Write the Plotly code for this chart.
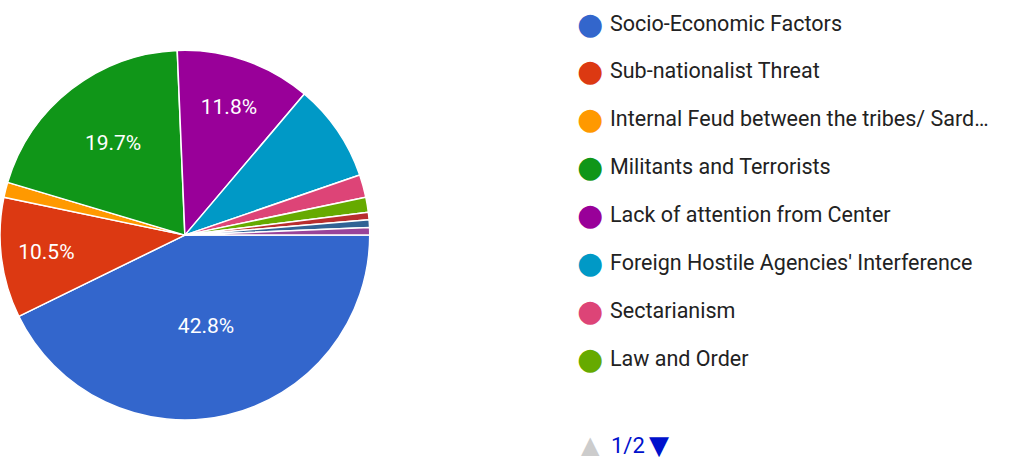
import plotly.graph_objects as go

# Data (counts out of 152 responses)
categories = [
    "Socio-Economic Factors",
    "Sub-nationalist Threat",
    "Internal Feud between the tribes/ Sard…",
    "Militants and Terrorists",
    "Lack of attention from Center",
    "Foreign Hostile Agencies' Interference",
    "Sectarianism",
    "Law and Order",
    "Other 1",
    "Other 2",
    "Other 3",
]
counts = [65, 16, 2, 30, 18, 13, 3, 2, 1, 1, 1]
colors = ["#3366cc", "#dc3912", "#ff9900", "#109618", "#990099", "#0099c6",
          "#dd4477", "#66aa00", "#b82e2e", "#316395", "#994499"]
legend_shown = 8
pager_text = "1/2"

total = sum(counts)
texts = [f"{100*c/total:.1f}%" if 100 * c / total >= 10 else "" for c in counts]

FONT = "Roboto, Arial, sans-serif"

fig = go.Figure(go.Pie(
    labels=categories,
    values=counts,
    text=texts,
    textinfo="text",
    textposition="inside",
    insidetextorientation="horizontal",
    textfont=dict(color="white", size=21, family=FONT),
    marker=dict(colors=colors, line=dict(color="white", width=1.5)),
    sort=False,
    direction="clockwise",
    rotation=90,
    domain=dict(x=[0.0, 0.365], y=[0.0, 0.98]),
    showlegend=False,
    hoverinfo="label+percent",
))

row_top = 23
row_gap = 47.9
H = 461
W = 1013
for i in range(legend_shown):
    ypix = row_top + i * row_gap
    fig.add_annotation(x=590 / W, y=1 - ypix / H, xref="paper", yref="paper",
                       text="●", showarrow=False, xanchor="center", yanchor="middle",
                       font=dict(size=30, color=colors[i], family="DejaVu Sans"))
    fig.add_annotation(x=608 / W, y=1 - ypix / H, xref="paper", yref="paper",
                       text=categories[i], showarrow=False, xanchor="left", yanchor="middle",
                       font=dict(size=21.5, color="#222222", family=FONT))

fig.add_annotation(x=590 / W, y=1 - 445 / H, xref="paper", yref="paper", text="▲",
                   showarrow=False, xanchor="center", yanchor="middle",
                   font=dict(size=24, color="#cccccc", family="DejaVu Sans"))
fig.add_annotation(x=609 / W, y=1 - 445 / H, xref="paper", yref="paper", text=pager_text,
                   showarrow=False, xanchor="left", yanchor="middle",
                   font=dict(size=22, color="#0011cc", family=FONT))
fig.add_annotation(x=659 / W, y=1 - 445 / H, xref="paper", yref="paper", text="▼",
                   showarrow=False, xanchor="center", yanchor="middle",
                   font=dict(size=26, color="#0011cc", family="DejaVu Sans"))

fig.update_layout(width=W, height=H, margin=dict(l=0, r=0, t=0, b=0),
                  paper_bgcolor="white", plot_bgcolor="white")
fig.write_html("out.html")
